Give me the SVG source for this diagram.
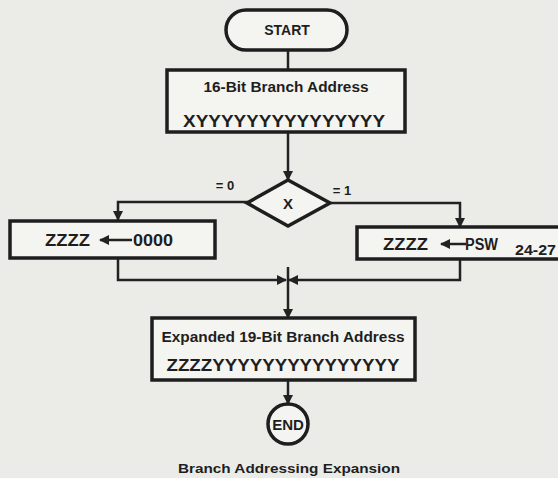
<svg xmlns="http://www.w3.org/2000/svg" width="558" height="478" viewBox="0 0 558 478">
<style>
.bg{fill:#ebebe8}
.box{fill:#f4f4f1;stroke:#1e1e1e;stroke-width:3.5}
.ln{fill:none;stroke:#222;stroke-width:2.5}
.t{font-family:"Liberation Sans",Arial,sans-serif;font-weight:bold;fill:#1e1e1e}
</style>
<defs>
<marker id="ah" viewBox="0 0 10 10" refX="9" refY="5" markerWidth="4" markerHeight="4" orient="auto" markerUnits="strokeWidth">
<path d="M0,0 L10,5 L0,10 z" fill="#222"/>
</marker>
</defs>
<rect class="bg" x="0" y="0" width="558" height="478"/>
<g id="connectors">
<line class="ln" x1="288" y1="50" x2="288" y2="70"/>
<line class="ln" x1="288" y1="132" x2="288" y2="180" marker-end="url(#ah)"/>
<polyline class="ln" points="248,202 118,202 118,220" marker-end="url(#ah)"/>
<polyline class="ln" points="330,203 460,203 460,227" marker-end="url(#ah)"/>
<polyline class="ln" points="118,258 118,280 286,280" marker-end="url(#ah)"/>
<polyline class="ln" points="460,258 460,280 289,280" marker-end="url(#ah)"/>
<line class="ln" x1="288" y1="267" x2="288" y2="318" marker-end="url(#ah)"/>
<line class="ln" x1="288" y1="380" x2="288" y2="404" marker-end="url(#ah)"/>
<text class="t" x="225" y="190" font-size="13" text-anchor="middle">= 0</text>
<text class="t" x="342" y="195" font-size="13" text-anchor="middle">= 1</text>
</g>
<g id="start">
<rect class="box" x="226" y="10" width="121" height="40" rx="20"/>
<text class="t" x="287" y="35" font-size="14" text-anchor="middle">START</text>
</g>
<g id="branch16">
<rect class="box" x="167" y="70" width="238" height="62"/>
<text class="t" x="286" y="92" font-size="14" text-anchor="middle" textLength="165" lengthAdjust="spacingAndGlyphs">16-Bit Branch Address</text>
<text class="t" x="284" y="127" font-size="16" text-anchor="middle" textLength="202" lengthAdjust="spacingAndGlyphs" font-weight="normal">XYYYYYYYYYYYYYYY</text>
</g>
<g id="decision">
<polygon class="box" points="288,180 330,203 288,226 247,203"/>
<text class="t" x="288" y="209" font-size="15" text-anchor="middle" font-weight="normal">X</text>
</g>
<g id="zero">
<rect class="box" x="10" y="221" width="205" height="37"/>
<text class="t" x="45" y="246" font-size="16" textLength="45" lengthAdjust="spacingAndGlyphs">ZZZZ</text>
<line class="ln" x1="132" y1="240" x2="100" y2="240" marker-end="url(#ah)" stroke-width="3"/>
<text class="t" x="133" y="246" font-size="16" textLength="40" lengthAdjust="spacingAndGlyphs">0000</text>
</g>
<g id="psw">
<rect class="box" x="357" y="227" width="210" height="32"/>
<text class="t" x="383" y="250" font-size="16" textLength="45" lengthAdjust="spacingAndGlyphs">ZZZZ</text>
<line class="ln" x1="466" y1="244" x2="441" y2="244" marker-end="url(#ah)" stroke-width="3"/>
<text class="t" x="465" y="250" font-size="16" textLength="33" lengthAdjust="spacingAndGlyphs">PSW</text>
<text class="t" x="515" y="255" font-size="14" textLength="41" lengthAdjust="spacingAndGlyphs">24-27</text>
</g>
<g id="branch19">
<rect class="box" x="152" y="318" width="263" height="62"/>
<text class="t" x="283" y="342" font-size="14" text-anchor="middle" textLength="243" lengthAdjust="spacingAndGlyphs">Expanded 19-Bit Branch Address</text>
<text class="t" x="283" y="371" font-size="16" text-anchor="middle" textLength="233" lengthAdjust="spacingAndGlyphs" font-weight="normal">ZZZZYYYYYYYYYYYYYYY</text>
</g>
<g id="end">
<circle class="box" cx="288" cy="424" r="20"/>
<text class="t" x="288" y="430" font-size="15" text-anchor="middle">END</text>
</g>
<text class="t" x="289" y="473" font-size="13" text-anchor="middle" textLength="222" lengthAdjust="spacingAndGlyphs">Branch Addressing Expansion</text>
</svg>
